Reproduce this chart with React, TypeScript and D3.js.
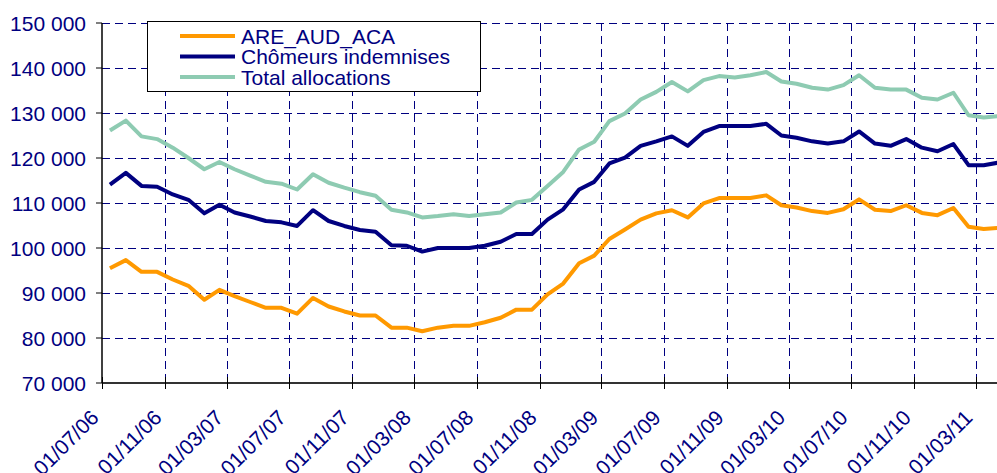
import React, { useEffect, useRef } from 'react';
import * as d3 from 'd3';

// first month of the monthly series
const startMonth = '01/07/06';

const areAudAca = [
  95500, 97300, 94700, 94700, 93000, 91600, 88500, 90700, 89300, 88000,
  86700, 86700, 85400, 88900, 87000, 85900, 85000, 85000, 82300, 82300,
  81500, 82300, 82700, 82700, 83500, 84500, 86300, 86300, 89700, 92100,
  96600, 98300, 102000, 104100, 106300, 107700, 108400, 106800, 109900, 111100,
  111100, 111100, 111700, 109500, 109000, 108200, 107800, 108600, 110800, 108500,
  108200, 109500, 107800, 107300, 108900, 104700, 104200, 104500,
];

const chomeurs = [
  114100, 116700, 113800, 113600, 111900, 110700, 107700, 109600, 107900, 107000,
  106000, 105700, 104900, 108400, 106000, 104900, 104000, 103600, 100600, 100500,
  99200, 100000, 100000, 100000, 100500, 101400, 103100, 103100, 106300, 108600,
  113000, 114700, 118800, 120100, 122700, 123700, 124800, 122700, 125800, 127100,
  127100, 127100, 127600, 125000, 124500, 123700, 123200, 123700, 125900, 123200,
  122700, 124200, 122300, 121500, 123100, 118400, 118400, 119000,
];

const totalAlloc = [
  126100, 128300, 124800, 124200, 122300, 120000, 117500, 119100, 117500, 116100,
  114700, 114300, 113000, 116400, 114500, 113400, 112400, 111600, 108500, 107900,
  106800, 107100, 107500, 107100, 107500, 107900, 110100, 110700, 113800, 116900,
  121900, 123600, 128200, 129900, 133000, 134700, 136900, 134800, 137300, 138200,
  137900, 138400, 139100, 137000, 136500, 135600, 135200, 136200, 138400, 135600,
  135200, 135200, 133400, 133000, 134500, 129500, 129000, 129300,
];

const yTicks = [70000, 80000, 90000, 100000, 110000, 120000, 130000, 140000, 150000];

const xTickLabels = [
  '01/07/06', '01/11/06', '01/03/07', '01/07/07', '01/11/07', '01/03/08', '01/07/08',
  '01/11/08', '01/03/09', '01/07/09', '01/11/09', '01/03/10', '01/07/10', '01/11/10',
  '01/03/11',
];

const seriesNames = ['ARE_AUD_ACA', 'Chômeurs indemnises', 'Total allocations'];
const seriesColors = ['#FF9900', '#000080', '#8ECBB2'];

const App = () => {
  const ref = useRef<SVGSVGElement>(null);

  useEffect(() => {
    const width = 997;
    const height = 473;
    const left = 102, top = 23, bottom = 383;
    const navy = '#000080';
    const font = '"Liberation Sans", Arial, Helvetica, sans-serif';
    const parse = d3.timeParse('%d/%m/%y');

    const x = d3.scaleTime()
      .domain([parse('01/07/06') as Date, parse('01/05/11') as Date])
      .range([left, 1007]);
    const y = d3.scaleLinear().domain([70000, 150000]).range([bottom, top]);

    const svg = d3.select(ref.current);
    svg.selectAll('*').remove();

    // grille horizontale
    svg.append('g')
      .selectAll('line')
      .data(yTicks.slice(1))
      .join('line')
      .attr('x1', left).attr('x2', width)
      .attr('y1', d => y(d) + 0.5).attr('y2', d => y(d) + 0.5)
      .attr('stroke', navy).attr('stroke-width', 1)
      .attr('stroke-dasharray', '8,5');

    const tickDates = xTickLabels.map(t => parse(t) as Date);

    // grille verticale
    svg.append('g')
      .selectAll('line')
      .data(tickDates.slice(1))
      .join('line')
      .attr('x1', d => Math.round(x(d)) + 0.5).attr('x2', d => Math.round(x(d)) + 0.5)
      .attr('y1', top).attr('y2', bottom)
      .attr('stroke', navy).attr('stroke-width', 1)
      .attr('stroke-dasharray', '8,5');

    // axes
    svg.append('line')
      .attr('x1', left).attr('x2', left).attr('y1', top).attr('y2', bottom)
      .attr('stroke', '#000').attr('stroke-width', 1.5);
    svg.append('g')
      .selectAll('line')
      .data(yTicks)
      .join('line')
      .attr('x1', left - 6).attr('x2', left)
      .attr('y1', d => y(d)).attr('y2', d => y(d))
      .attr('stroke', '#000').attr('stroke-width', 1);
    svg.append('line')
      .attr('x1', left).attr('x2', width).attr('y1', bottom).attr('y2', bottom)
      .attr('stroke', '#333').attr('stroke-width', 2);
    svg.append('g')
      .selectAll('line')
      .data(tickDates)
      .join('line')
      .attr('x1', d => Math.round(x(d)) + 0.5).attr('x2', d => Math.round(x(d)) + 0.5)
      .attr('y1', bottom - 6).attr('y2', bottom + 6)
      .attr('stroke', '#000').attr('stroke-width', 1);

    // étiquettes
    svg.append('g')
      .selectAll('text')
      .data(yTicks)
      .join('text')
      .attr('x', 86)
      .attr('y', d => y(d) + 7.5)
      .attr('text-anchor', 'end')
      .attr('fill', navy)
      .style('font-family', font)
      .style('font-size', '21px')
      .text(d => d3.format(',')(d).replace(',', ' '));

    svg.append('g')
      .selectAll('text')
      .data(tickDates)
      .join('text')
      .attr('transform', d => `translate(${x(d) - 2}, 419) rotate(-45)`)
      .attr('text-anchor', 'end')
      .attr('fill', navy)
      .style('font-family', font)
      .style('font-size', '21px')
      .text((d, i) => xTickLabels[i]);

    // séries mensuelles, placées au milieu du mois
    const start = parse(startMonth) as Date;
    const months = d3.range(areAudAca.length).map(i => {
      const m = d3.timeMonth.offset(start, i);
      const n = d3.timeMonth.offset(start, i + 1);
      return new Date((+m + +n) / 2);
    });
    const line = d3.line<number>()
      .x((d, i) => x(months[i]))
      .y(d => y(d));

    [areAudAca, chomeurs, totalAlloc].forEach((s, k) => {
      svg.append('path')
        .datum(s)
        .attr('d', line)
        .attr('fill', 'none')
        .attr('stroke', seriesColors[k])
        .attr('stroke-width', 4)
        .attr('stroke-linejoin', 'round');
    });

    // légende
    const legend = svg.append('g');
    legend.append('rect')
      .attr('x', 147.5).attr('y', 21.5).attr('width', 333).attr('height', 70)
      .attr('fill', '#fff').attr('stroke', '#000').attr('stroke-width', 1);
    seriesNames.forEach((name, k) => {
      const ly = 36 + k * 20.5;
      legend.append('line')
        .attr('x1', 180).attr('x2', 235).attr('y1', ly).attr('y2', ly)
        .attr('stroke', seriesColors[k]).attr('stroke-width', 4);
      legend.append('text')
        .attr('x', 241).attr('y', ly + 7.5)
        .attr('fill', navy)
        .style('font-family', font)
        .style('font-size', '21px')
        .text(name);
    });
  }, []);

  return (
    <svg
      ref={ref}
      width={997}
      height={473}
      style={{ position: 'absolute', left: 0, top: 0, background: '#fff' }}
    />
  );
};

export default App;
